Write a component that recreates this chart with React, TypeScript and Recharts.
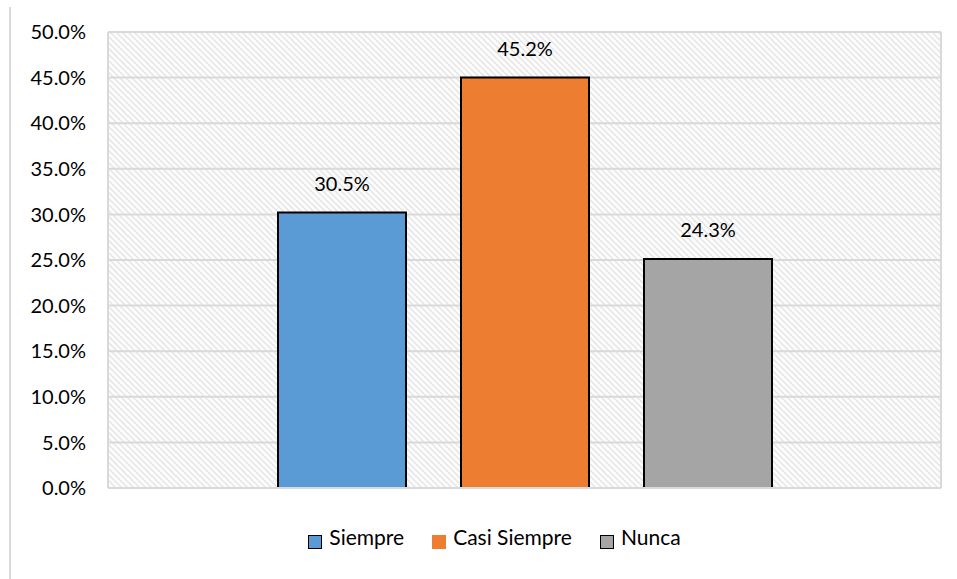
import React from 'react';
import { BarChart, Bar, XAxis, YAxis, CartesianGrid, Legend, LabelList } from 'recharts';

const series = ['Siempre', 'Casi Siempre', 'Nunca'];
const seriesValues = [30.2, 45.0, 25.1];
const seriesLabels = ['30.5%', '45.2%', '24.3%'];
const seriesColors = ['#5b9bd5', '#ed7d31', '#a5a5a5'];
const yTicks = [0, 5, 10, 15, 20, 25, 30, 35, 40, 45, 50];

const row: Record<string, any> = { name: '' };
series.forEach((s, i) => {
  row[s] = seriesValues[i];
});
const data = [row];

const FONT = 'Lato, "Open Sans", sans-serif';

// legend drawn like the Excel one, small squares sitting low next to the text
const renderLegend = () => (
  <div
    style={{
      display: 'flex',
      justifyContent: 'center',
      gap: 28,
      paddingLeft: 48,
      fontFamily: FONT,
      fontSize: 21,
      color: '#000',
      lineHeight: '24px',
    }}
  >
    {series.map((s, i) => (
      <div key={s} style={{ display: 'flex', alignItems: 'flex-end' }}>
        <span
          style={{
            display: 'inline-block',
            width: 12,
            height: 12,
            background: seriesColors[i],
            border: i === 1 ? '1px solid ' + seriesColors[i] : '1px solid #000',
            marginRight: 7,
          }}
        />
        <span>{s}</span>
      </div>
    ))}
  </div>
);

const makeLabel = (idx: number) => (props: any) => {
  const { x, y, width } = props;
  return (
    <text x={x + width / 2} y={y - 22} textAnchor="middle" fontFamily={FONT} fontSize={20} fill="#000">
      {seriesLabels[idx]}
    </text>
  );
};

export default function App() {
  return (
    <div style={{ position: 'absolute', left: 0, top: 0, width: 957, height: 579, background: '#fff' }}>
      <div style={{ position: 'absolute', left: 9, top: 7, bottom: 0, borderLeft: '2px solid #d9d9d9' }} />
      <BarChart
        width={957}
        height={579}
        data={data}
        margin={{ top: 32, right: 16, left: 0, bottom: 40 }}
        barGap={55}
      >
        <defs>
          <pattern id="hatch" width="6" height="6" patternUnits="userSpaceOnUse">
            <rect width="6" height="6" fill="#fcfcfc" />
            <path d="M-1,-1 L7,7 M-4,2 L2,8 M2,-4 L8,2" stroke="#e4e4e4" strokeWidth="1.3" />
          </pattern>
        </defs>
        <CartesianGrid
          fill="url(#hatch)"
          stroke="#d9d9d9"
          strokeWidth={2}
          verticalCoordinatesGenerator={({ offset }: any) => [offset.left, offset.left + offset.width]}
        />
        <XAxis dataKey="name" axisLine={{ stroke: '#d9d9d9', strokeWidth: 2 }} tickLine={false} tick={false} height={1} />
        <YAxis
          width={108}
          domain={[0, 50]}
          ticks={yTicks}
          interval={0}
          tickFormatter={(v: number) => `${v.toFixed(1)}%`}
          axisLine={{ stroke: '#d9d9d9', strokeWidth: 2 }}
          tickLine={false}
          tickSize={0}
          tickMargin={22}
          tick={{ fill: '#000', fontSize: 20, fontFamily: FONT }}
        />
        <Legend verticalAlign="bottom" height={50} content={renderLegend} wrapperStyle={{ top: 525 }} />
        {series.map((s, i) => (
          <Bar key={s} dataKey={s} fill={seriesColors[i]} stroke="#000" strokeWidth={2} barSize={128} isAnimationActive={false}>
            <LabelList dataKey={s} content={makeLabel(i)} />
          </Bar>
        ))}
      </BarChart>
    </div>
  );
}
